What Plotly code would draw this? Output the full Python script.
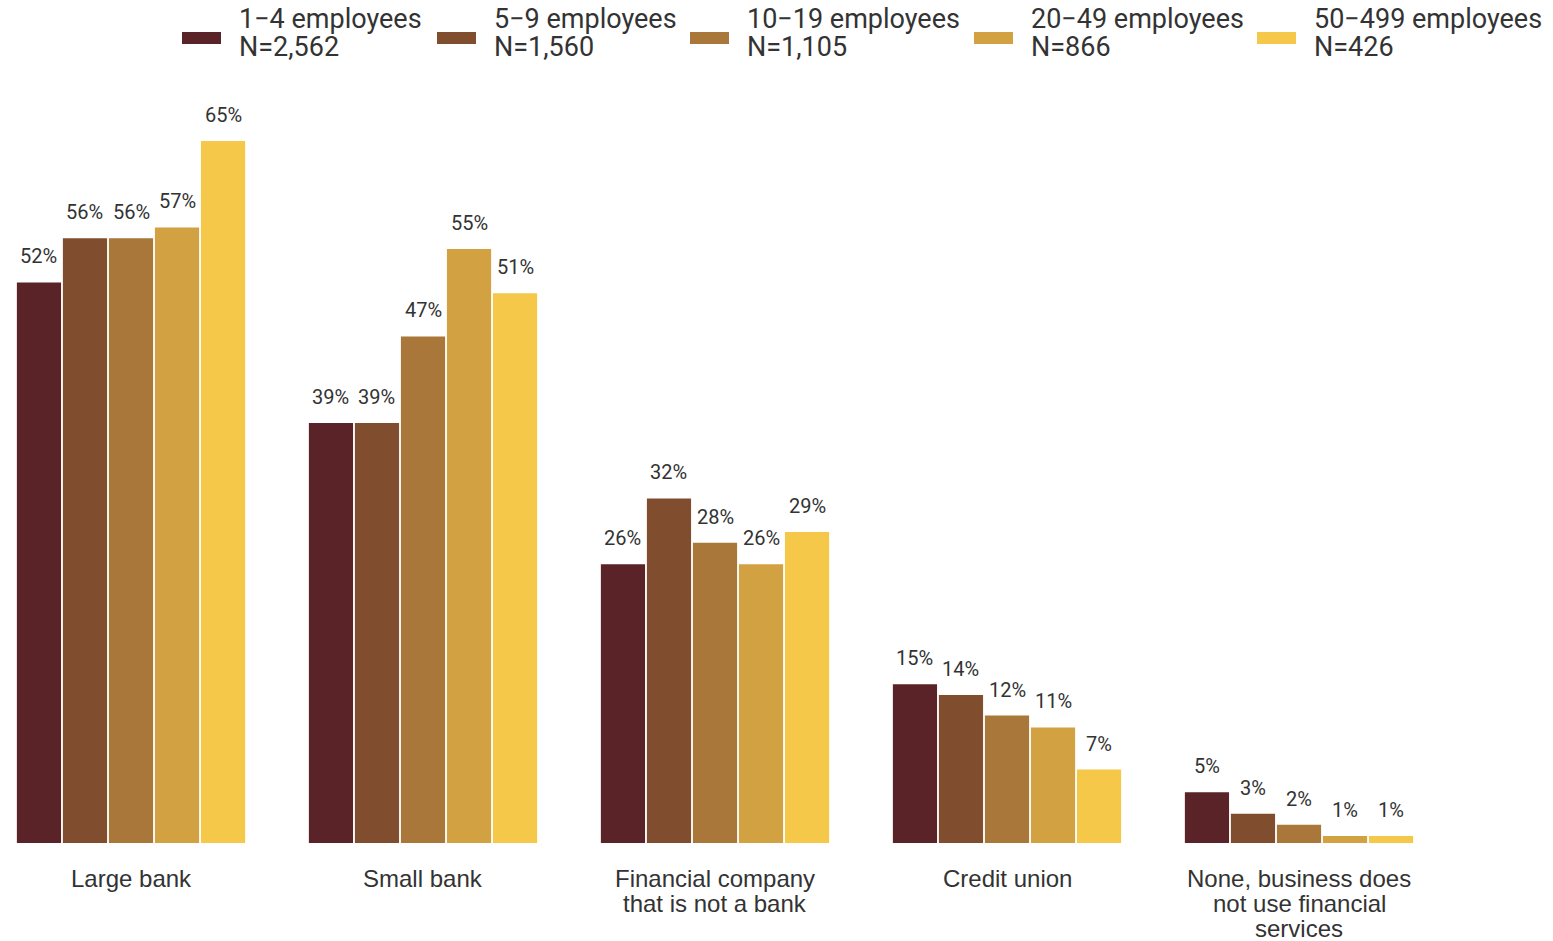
import plotly.graph_objects as go

categories = ["Large bank", "Small bank", "Financial company<br>that is not a bank",
              "Credit union", "None, business does<br>not use financial<br>services"]
series_names = ["1\u22124 employees", "5\u22129 employees", "10\u221219 employees",
                "20\u221249 employees", "50\u2212499 employees"]
series_n = ["N=2,562", "N=1,560", "N=1,105", "N=866", "N=426"]
values = [
    [51.9, 38.9, 25.8, 14.7, 4.7],   # 1-4
    [56.0, 38.9, 31.9, 13.7, 2.7],   # 5-9
    [56.0, 46.9, 27.8, 11.8, 1.7],   # 10-19
    [57.0, 55.0, 25.8, 10.7, 0.65],  # 20-49
    [65.0, 50.9, 28.8, 6.8, 0.65],   # 50-499
]
labels = [
    [52, 39, 26, 15, 5],
    [56, 39, 32, 14, 3],
    [56, 47, 28, 12, 2],
    [57, 55, 26, 11, 1],
    [65, 51, 29, 7, 1],
]
colors = ["#592327", "#804d2e", "#a97739", "#d1a142", "#f5c84a"]

W, H = 1553, 941
BASE = 843          # baseline (px)
MT = 90
MB = H - BASE
PX_PER_UNIT = 10.8
CAT_STEP = 292
BARGAP = 0.212
GROUPGAP = 0.04
n_series = len(series_names)
slot = (1 - BARGAP) / n_series
TXT = "#333333"

fig = go.Figure()
x_idx = list(range(len(categories)))
for i, name in enumerate(series_names):
    fig.add_trace(go.Bar(
        x=x_idx, y=values[i], name=name, marker_color=colors[i],
        marker_line_width=0, showlegend=False,
        hovertemplate=name + ": %{y:.0f}%<extra></extra>",
    ))

annotations = []
# value labels
for i in range(n_series):
    for c in x_idx:
        annotations.append(dict(
            x=c + (i - (n_series - 1) / 2) * slot, y=values[i][c], xref="x", yref="y",
            text=f"{labels[i][c]}%", showarrow=False, yanchor="bottom", yshift=12,
            font=dict(family="Roboto", size=20, color=TXT),
        ))

# category labels (one annotation per line for tight line spacing)
for c, cat in enumerate(categories):
    for k, line in enumerate(cat.split("<br>")):
        annotations.append(dict(
            x=c, y=0, xref="x", yref="y", text=line, showarrow=False,
            yanchor="middle", yshift=-(35 + 25 * k),
            font=dict(family="Liberation Sans", size=24, color=TXT),
        ))

# manual legend
plot_h = H - MT - MB
def py(p):
    return (BASE - p) / plot_h
leg_rect_x = [182, 437, 690, 974, 1257]
shapes = []
for i in range(n_series):
    x0 = leg_rect_x[i]
    shapes.append(dict(type="rect", xref="paper", yref="paper",
                       x0=x0 / W, x1=(x0 + 39) / W, y0=py(44), y1=py(32),
                       fillcolor=colors[i], line_width=0))
    for k, line in enumerate([series_names[i], series_n[i]]):
        annotations.append(dict(
            x=(x0 + 55) / W, y=py(19 + 28 * k), xref="paper", yref="paper",
            text=line, showarrow=False, xanchor="left", yanchor="middle", align="left",
            font=dict(family="Roboto", size=27, color=TXT),
        ))

x_left = -131 / CAT_STEP
fig.update_layout(
    width=W, height=H,
    margin=dict(l=0, r=0, t=MT, b=MB),
    barmode="group", bargap=BARGAP, bargroupgap=GROUPGAP,
    plot_bgcolor="white", paper_bgcolor="white",
    annotations=annotations, shapes=shapes,
    xaxis=dict(
        tickmode="array", tickvals=x_idx, ticktext=categories,
        showticklabels=False, automargin=False,
        range=[x_left, x_left + W / CAT_STEP],
        showgrid=False, zeroline=False, showline=False,
    ),
    yaxis=dict(range=[0, plot_h / PX_PER_UNIT], visible=False, automargin=False),
)

fig.write_html("out.html", config={"displayModeBar": False},
               post_script="document.body.style.margin='0';document.body.style.overflow='hidden';")
